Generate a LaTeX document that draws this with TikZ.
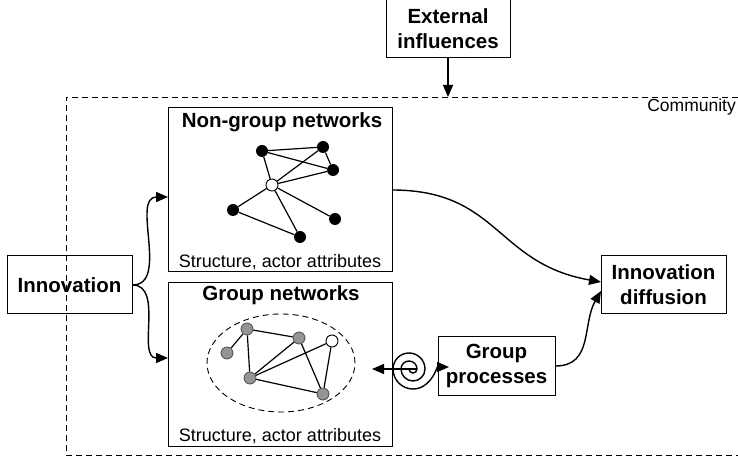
\documentclass[tikz,border=0pt]{standalone}
\usepackage{fontspec}
\setmainfont{Liberation Sans}
\usetikzlibrary{arrows.meta,shapes.geometric,calc}
\begin{document}
\begin{tikzpicture}[x=1pt,y=1pt,
  box/.style={draw, line width=1pt, align=center, inner sep=0pt, font=\fontsize{20.5}{25}\selectfont\bfseries},
  ttl/.style={font=\fontsize{20.5}{25}\selectfont\bfseries, inner sep=0pt},
  sub/.style={font=\fontsize{18}{22}\selectfont, inner sep=0pt},
  arr/.style={line width=1.4pt, -{Triangle[length=12pt,width=10pt]}},
  bn/.style={circle, fill=black, minimum size=12pt, inner sep=0pt},
  wn/.style={circle, draw, fill=white, line width=0.9pt, minimum size=12pt, inner sep=0pt},
  gnode/.style={circle, draw=black!70, fill=black!42, line width=0.8pt, minimum size=12pt, inner sep=0pt},
  edge/.style={line width=1.2pt},
  dline/.style={line width=0.9pt, dash pattern=on 6pt off 4pt}
]
\useasboundingbox (0,0) rectangle (738,463);

% community
\coordinate (c1) at (738,366);
\coordinate (c2) at (66,366);
\coordinate (c3) at (66,8);
\coordinate (c4) at (738,8);
\draw[dline] (c1) -- (c2) -- (c3) -- (c4);
\node[sub, anchor=east, font=\fontsize{17.5}{21}\selectfont] (comm) at (736,356) {Community};

% boxes
\node[box, minimum width=124pt, minimum height=58pt] (ext) at (448,434) {External\\influences};
\coordinate (ctop) at (448,366);
\draw[arr] (ext.south) -- (ctop);

\node[box, minimum width=224pt, minimum height=164pt] (ng) at (280,273) {};
\node[ttl] (ngt) at (282,341) {Non-group networks};
\node[sub] (ngs) at (280,201) {Structure, actor attributes};

\node[box, minimum width=224pt, minimum height=163pt] (gn) at (280,98.5) {};
\node[ttl] (gnt) at (281,168) {Group networks};
\node[sub] (gns) at (280,27) {Structure, actor attributes};

\node[box, minimum width=125pt, minimum height=58pt] (inn) at (69.5,178) {Innovation};
\node[box, minimum width=125pt, minimum height=58pt] (dif) at (663.5,178) {Innovation\\diffusion};
\node[box, minimum width=117pt, minimum height=58pt] (gp) at (496.5,97) {Group\\processes};

% non-group network
\node[bn] (A) at (262,312) {};
\node[bn] (B) at (323,316) {};
\node[bn] (C) at (333,293) {};
\node[wn] (D) at (272,278) {};
\node[bn] (E) at (233,253) {};
\node[bn] (F) at (335,244) {};
\node[bn] (G) at (300,226) {};
\draw[edge] (A) -- (B); \draw[edge] (A) -- (C); \draw[edge] (B) -- (C);
\draw[edge] (B) -- (D); \draw[edge] (C) -- (D); \draw[edge] (A) -- (D);
\draw[edge] (D) -- (E); \draw[edge] (D) -- (F); \draw[edge] (D) -- (G);
\draw[edge] (E) -- (G);

% group network
\node[draw, ellipse, dline, minimum width=148pt, minimum height=98pt, inner sep=0pt] (ell) at (281,100) {};
\node[gnode] (a) at (227,110) {};
\node[gnode] (b) at (247,134) {};
\node[gnode] (c) at (299,125) {};
\node[wn] (d) at (332,122) {};
\node[gnode] (e) at (250,85) {};
\node[gnode] (f) at (323,69) {};
\draw[edge] (a) -- (b); \draw[edge] (b) -- (c); \draw[edge] (b) -- (e);
\draw[edge] (c) -- (e); \draw[edge] (e) -- (d); \draw[edge] (e) -- (f);
\draw[edge] (c) -- (f); \draw[edge] (d) -- (f);

% connectors
\coordinate (ngin) at (168,266);
\coordinate (gnin) at (168,105);
\draw[arr] (inn.east) to[out=0, in=180] (ngin);
\draw[arr] (inn.east) to[out=0, in=180] (gnin);
\coordinate (ngout) at (392,273);
\coordinate (difin1) at (601,181);
\coordinate (difin2) at (601,172);
\draw[arr] (ngout) to[out=0, in=170, looseness=1.2] (difin1);
\draw[arr] (gp.east) to[out=0, in=240, looseness=1.1] (difin2);

% spiral
\coordinate (sp0) at (409,94);
\coordinate (spin) at (417,94);
\coordinate (spl) at (372,94);
\coordinate (spr) at (449,96);
\draw[line width=1.4pt] (sp0)
  arc[start angle=180, end angle=360, radius=4pt]
  arc[start angle=0, end angle=180, radius=8pt]
  arc[start angle=180, end angle=360, radius=12pt]
  arc[start angle=0, end angle=180, radius=16pt]
  arc[start angle=180, end angle=305, radius=20pt] coordinate (spe);
\draw[arr] (spin) -- (spl);
\draw[arr] (spe) to[out=35, in=180] (spr);
\end{tikzpicture}
\end{document}
